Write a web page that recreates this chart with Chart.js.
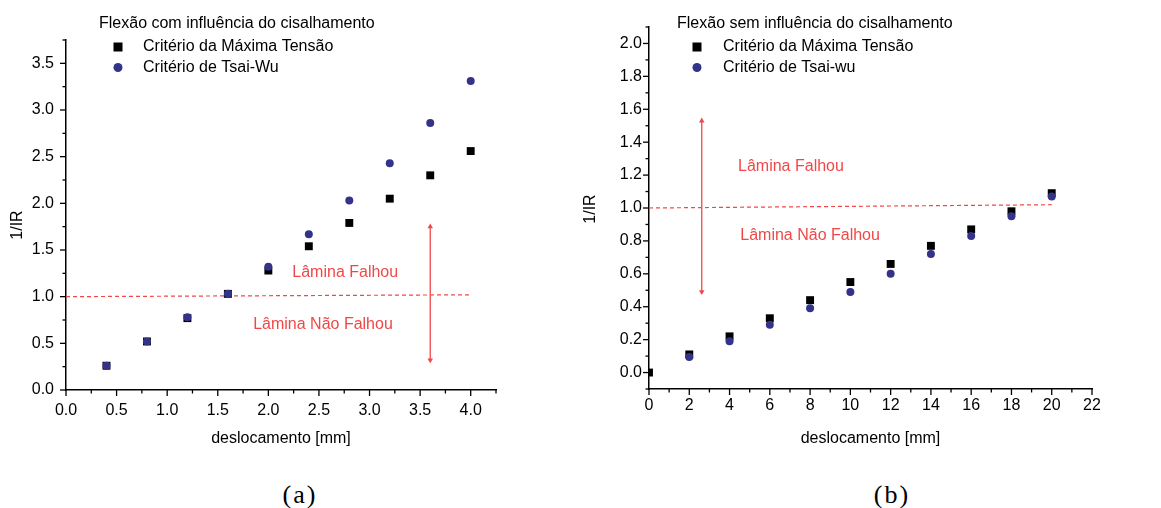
<!DOCTYPE html>
<html>
<head>
<meta charset="utf-8">
<script src="https://cdn.jsdelivr.net/npm/chart.js@4"></script>
<style>
  html, body { margin:0; padding:0; background:#fff; }
  body { width:1161px; height:508px; position:relative; overflow:hidden; }
  .wrap { position:absolute; top:0; }
  .cap { position:absolute; font-family:"Liberation Serif","Times New Roman",serif; font-size:26px; letter-spacing:2px; line-height:26px; color:#000; transform:translateX(-50%); }
</style>
</head>
<body>
<div class="wrap" style="left:0;width:560px;height:470px;"><canvas id="ca" width="560" height="470"></canvas></div>
<div class="wrap" style="left:580px;width:581px;height:470px;"><canvas id="cb" width="581" height="470"></canvas></div>
<div class="cap" style="left:300px;top:482px;">(a)</div>
<div class="cap" style="left:892px;top:482px;">(b)</div>
<script>
// ---------- Chart (a) data ----------
const xA = [0.4, 0.8, 1.2, 1.6, 2.0, 2.4, 2.8, 3.2, 3.6, 4.0];
const maxTensaoA = [0.26, 0.52, 0.77, 1.03, 1.28, 1.54, 1.79, 2.05, 2.30, 2.56];
const tsaiWuA    = [0.26, 0.52, 0.78, 1.03, 1.32, 1.67, 2.03, 2.43, 2.86, 3.31];
const xTickLabelsA = ['0.0','0.5','1.0','1.5','2.0','2.5','3.0','3.5','4.0'];
const yTickLabelsA = ['0.0','0.5','1.0','1.5','2.0','2.5','3.0','3.5'];
const limitLineA = [{x:0, y:1.0}, {x:4.0, y:1.02}];
const arrowA = [{x:3.6, y:0.32}, {x:3.6, y:1.75}];
const notesA = [{text:'Lâmina Falhou', x:2.76, y:1.26}, {text:'Lâmina Não Falhou', x:2.54, y:0.70}];

// ---------- Chart (b) data ----------
const xB = [0, 2, 4, 6, 8, 10, 12, 14, 16, 18, 20];
const maxTensaoB = [0.00, 0.11, 0.22, 0.33, 0.44, 0.55, 0.66, 0.77, 0.87, 0.98, 1.09];
const xBcirc = [2, 4, 6, 8, 10, 12, 14, 16, 18, 20];
const tsaiWuB    = [0.095, 0.19, 0.29, 0.39, 0.49, 0.60, 0.72, 0.83, 0.95, 1.07];
const xTickLabelsB = ['0','2','4','6','8','10','12','14','16','18','20','22'];
const yTickLabelsB = ['0.0','0.2','0.4','0.6','0.8','1.0','1.2','1.4','1.6','1.8','2.0'];
const limitLineB = [{x:0, y:1.0}, {x:20, y:1.02}];
const arrowB = [{x:2.62, y:0.49}, {x:2.62, y:1.53}];
const notesB = [{text:'Lâmina Falhou', x:7.05, y:1.25}, {text:'Lâmina Não Falhou', x:8.0, y:0.83}];

const FONT = '"Liberation Sans", Arial, Helvetica, sans-serif';
const RED = '#f04848';
const BLUE = '#33338a';

function pts(xs, ys){ return xs.map((x,i)=>({x, y: ys[i]})); }

const decorPlugin = {
  id: 'decor',
  afterDraw(chart, args, opts) {
    const ctx = chart.ctx;
    const xs = chart.scales.x, ys = chart.scales.y;
    ctx.save();
    // tick marks (outward)
    ctx.strokeStyle = '#000';
    ctx.lineWidth = 1.3;
    xs.ticks.forEach(t => {
      const major = opts.xLabels.includes(opts.xFmt(t.value));
      const px = xs.getPixelForValue(t.value);
      const len = major ? 6 : 3.5;
      ctx.beginPath(); ctx.moveTo(px, xs.top); ctx.lineTo(px, xs.top + len); ctx.stroke();
    });
    ys.ticks.forEach(t => {
      const major = opts.yLabels.includes(opts.yFmt(t.value));
      const py = ys.getPixelForValue(t.value);
      const len = major ? 6 : 3.5;
      ctx.beginPath(); ctx.moveTo(ys.right, py); ctx.lineTo(ys.right - len, py); ctx.stroke();
    });
    // y axis title
    ctx.fillStyle = '#000';
    ctx.font = '16px ' + FONT;
    ctx.textAlign = 'center';
    ctx.textBaseline = 'middle';
    ctx.save();
    ctx.translate(opts.yTitleX, opts.yTitleY);
    ctx.rotate(-Math.PI / 2);
    ctx.fillText('1/IR', 0, 0);
    ctx.restore();
    // annotations
    ctx.fillStyle = RED;
    opts.notes.forEach(n => {
      ctx.fillText(n.text, xs.getPixelForValue(n.x), ys.getPixelForValue(n.y));
    });
    // title
    ctx.fillStyle = '#000';
    ctx.textAlign = 'left';
    ctx.fillText(opts.title, opts.titleX, opts.titleY);
    // legend
    const ds = chart.data.datasets.filter(d => d.inLegend);
    ds.forEach((d, i) => {
      const y = opts.legY[i];
      ctx.fillStyle = d.backgroundColor;
      ctx.beginPath();
      if (d.pointStyle === 'rect') { ctx.fillRect(opts.legMarkX - 4.5, y - 4.5, 9, 9); }
      else { ctx.arc(opts.legMarkX, y, 4.5, 0, Math.PI*2); ctx.fill(); }
      ctx.fillStyle = '#000';
      ctx.fillText(d.label, opts.legTextX, y);
    });
    ctx.restore();
  }
};

function makeChart(id, cfg) {
  const xFmt = cfg.xFmt, yFmt = cfg.yFmt;
  return new Chart(document.getElementById(id), {
    type: 'scatter',
    data: {
      datasets: [
        { label: 'IR = 1', type:'line', data: cfg.limit, borderColor: RED, borderWidth: 1.2, borderDash: [4,3], pointRadius: 0, fill:false, order: 5 },
        { label: 'arrow', type:'line', data: cfg.arrow, borderColor: RED, borderWidth: 1.3, backgroundColor: RED,
          pointStyle: 'triangle', pointRadius: 3.2, pointBorderWidth: 0, pointRotation: [180, 0], fill:false, order: 4 },
        { label: cfg.sqLabel, inLegend: true, data: cfg.sq, pointStyle: 'rect', pointRadius: 5.6, pointBorderWidth: 0, backgroundColor: '#000', borderColor:'#000', order: 3 },
        { label: cfg.ciLabel, inLegend: true, data: cfg.ci, pointStyle: 'circle', pointRadius: 4, pointBorderWidth: 0, backgroundColor: BLUE, borderColor: BLUE, order: 2 }
      ]
    },
    options: {
      responsive: false,
      animation: false,
      events: [],
      layout: { padding: cfg.padding },
      plugins: {
        legend: { display: false },
        tooltip: { enabled: false },
        decor: {
          xLabels: cfg.xLabels, yLabels: cfg.yLabels, xFmt, yFmt,
          notes: cfg.notes, title: cfg.title, titleX: cfg.titleX, titleY: 24,
          legY: [47, 67.5], legMarkX: cfg.legMarkX, legTextX: 143,
          yTitleX: cfg.yTitleX, yTitleY: cfg.yTitleY
        }
      },
      scales: {
        x: {
          type: 'linear', min: cfg.xMin, max: cfg.xMax,
          afterFit: s => { s.height = cfg.xAxisH; },
          grid: { display: false, drawTicks: false },
          border: { display: true, color: '#000', width: 1.5 },
          ticks: { stepSize: cfg.xStep, autoSkip: false, maxRotation: 0, padding: cfg.xPad,
                   color: '#000', font: { family: FONT, size: 16 },
                   callback: v => { const s = xFmt(v); return cfg.xLabels.includes(s) ? s : ''; } },
          title: { display: true, text: 'deslocamento [mm]', color: '#000', font: { family: FONT, size: 16 }, padding: { top: 0, bottom: 22 } }
        },
        y: {
          type: 'linear', min: cfg.yMin, max: cfg.yMax,
          afterFit: s => { s.width = cfg.yAxisW; },
          grid: { display: false, drawTicks: false },
          border: { display: true, color: '#000', width: 1.5 },
          ticks: { stepSize: cfg.yStep, autoSkip: false, padding: cfg.yPad,
                   color: '#000', font: { family: FONT, size: 16 },
                   callback: v => { const s = yFmt(v); return cfg.yLabels.includes(s) ? s : ''; } },
          title: { display: false }
        }
      }
    },
    plugins: [decorPlugin]
  });
}

makeChart('ca', {
  sq: pts(xA, maxTensaoA), ci: pts(xA, tsaiWuA),
  sqLabel: 'Critério da Máxima Tensão', ciLabel: 'Critério de Tsai-Wu',
  limit: limitLineA, arrow: arrowA, notes: notesA,
  title: 'Flexão com influência do cisalhamento', titleX: 99, legMarkX: 118,
  xMin: 0, xMax: 4.25, xStep: 0.25, yMin: 0, yMax: 3.75, yStep: 0.25,
  xFmt: v => v.toFixed(1), yFmt: v => v.toFixed(1),
  xLabels: xTickLabelsA, yLabels: yTickLabelsA,
  padding: { left: 0, top: 40, right: 64, bottom: 0 },
  xAxisH: 80, yAxisW: 66, xPad: 11, yPad: 12,
  yTitleX: 18, yTitleY: 225
});

makeChart('cb', {
  sq: pts(xB, maxTensaoB), ci: pts(xBcirc, tsaiWuB),
  sqLabel: 'Critério da Máxima Tensão', ciLabel: 'Critério de Tsai-wu',
  limit: limitLineB, arrow: arrowB, notes: notesB,
  title: 'Flexão sem influência do cisalhamento', titleX: 97, legMarkX: 117,
  xMin: 0, xMax: 22, xStep: 1, yMin: -0.1, yMax: 2.1, yStep: 0.1,
  xFmt: v => v.toFixed(0), yFmt: v => (Math.abs(v) < 1e-9 ? 0 : v).toFixed(1),
  xLabels: xTickLabelsB, yLabels: yTickLabelsB,
  padding: { left: 0, top: 27, right: 69, bottom: 0 },
  xAxisH: 81, yAxisW: 69, xPad: 7, yPad: 7,
  yTitleX: 11, yTitleY: 209
});
</script>
</body>
</html>
